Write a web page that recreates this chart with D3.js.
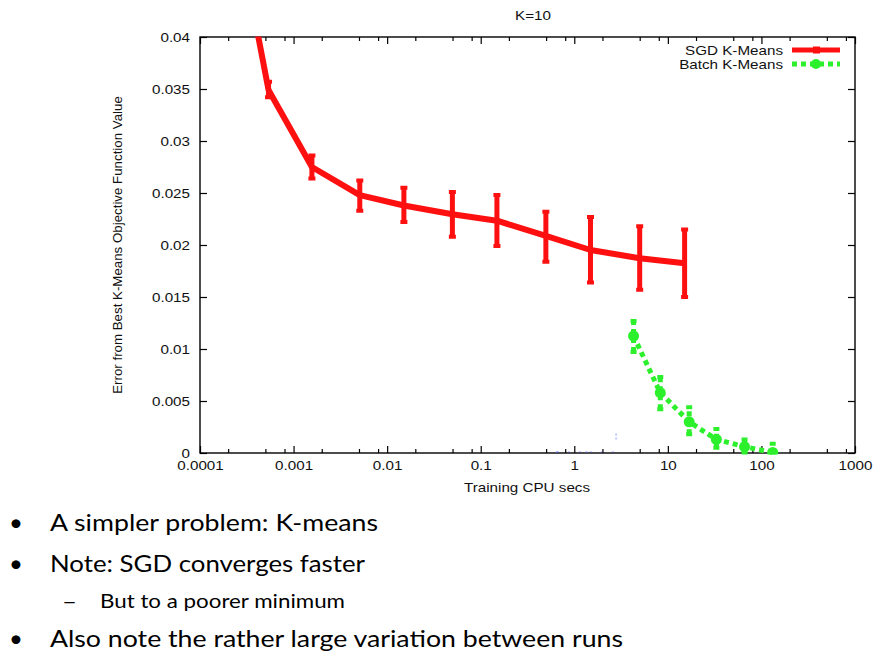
<!DOCTYPE html>
<html>
<head>
<meta charset="utf-8">
<script src="https://cdn.jsdelivr.net/npm/d3@7"></script>
<style>
	body{margin:0;background:#fff;}
	svg{display:block;}
</style>
</head>
<body>
<svg width="880" height="662"></svg>
<script>
//x轴刻度
var xTicks = [0.0001, 0.001, 0.01, 0.1, 1, 10, 100, 1000];
var xTickLabels = ['0.0001', '0.001', '0.01', '0.1', '1', '10', '100', '1000'];
var xMinorMult = [2, 5, 8];
//y轴刻度
var yTicks = [0, 0.005, 0.01, 0.015, 0.02, 0.025, 0.03, 0.035, 0.04];
var yTickLabels = ['0', '0.005', '0.01', '0.015', '0.02', '0.025', '0.03', '0.035', '0.04'];

//SGD K-Means
var sgdX = [0.00015, 0.00054, 0.00157, 0.0051, 0.0151, 0.0498, 0.149, 0.497, 1.49, 5.0, 15.1];
var sgdY = [0.061, 0.0349, 0.0275, 0.0248, 0.0238, 0.02295, 0.02234, 0.02087, 0.01952, 0.01872, 0.01824];
var sgdLo = [0.060, 0.0342, 0.0264, 0.0233, 0.0222, 0.0208, 0.0199, 0.0184, 0.0164, 0.0157, 0.0150];
var sgdHi = [0.062, 0.0357, 0.0286, 0.0262, 0.0255, 0.0251, 0.0248, 0.0232, 0.0227, 0.0218, 0.0215];

//Batch K-Means
var batchX = [4.3, 8.3, 16.9, 33, 66, 132];
var batchY = [0.01125, 0.0058, 0.0030, 0.0013, 0.0006, 0.00005];
var batchLo = [0.0097, 0.0042, 0.0018, 0.0005, 0, 0];
var batchHi = [0.0127, 0.0073, 0.0044, 0.0023, 0.0013, 0.0009];

//隐约可见的第三组（蓝色）
var blueX = [0.65, 1.35, 2.8];
var blueY = [0.0001, 0.0001, 0.0001];
var blueLo = [0, 0, 0.0013];
var blueHi = [0.0002, 0.0002, 0.0019];

var title = 'K=10';
var xTitle = 'Training CPU secs';
var yTitle = 'Error from Best K-Means Objective Function Value';
var legendNames = ['SGD K-Means', 'Batch K-Means'];

var bullets = [
	{mark:'•', text:'A simpler problem: K-means', level:0},
	{mark:'•', text:'Note: SGD converges faster', level:0},
	{mark:'–', text:'But to a poorer minimum', level:1},
	{mark:'•', text:'Also note the rather large variation between runs', level:0}
];

var pLeft = 200, pRight = 855, pTop = 37, pBottom = 453;
var sx = 1.17; //图片横向被拉伸
var svg = d3.select('svg');
var x = d3.scaleLog().domain([1e-4, 1e3]).range([pLeft, pRight]);
var y = d3.scaleLinear().domain([0, 0.04]).range([pBottom, pTop]);
var font = '"Liberation Sans", Arial, sans-serif';

function zip(xs, ys, lo, hi){
	return xs.map(function(d, i){ return {x:d, y:ys[i], lo:lo[i], hi:hi[i]}; });
}
var sgd = zip(sgdX, sgdY, sgdLo, sgdHi);
var batch = zip(batchX, batchY, batchLo, batchHi);
var blue = zip(blueX, blueY, blueLo, blueHi);

var xMinor = [];
xTicks.slice(0, -1).forEach(function(t){
	xMinorMult.forEach(function(m){ xMinor.push(t * m); });
});

//坐标轴
function styleAxis(g){
	g.select('.domain').remove();
	g.selectAll('line').attr('stroke', '#000').attr('stroke-width', 1.2);
	g.selectAll('text').attr('font-family', font).attr('font-size', 13).attr('fill', '#111');
}
svg.append('g').attr('transform', 'translate(0,' + pBottom + ')')
	.call(d3.axisBottom(x).tickValues(xTicks).tickFormat(function(d, i){ return xTickLabels[i]; })
		.tickSizeInner(-7).tickSizeOuter(0).tickPadding(8))
	.call(styleAxis)
	.selectAll('text').attr('transform', 'scale(' + sx + ',1)');
svg.append('g').attr('transform', 'translate(0,' + pBottom + ')')
	.call(d3.axisBottom(x).tickValues(xMinor).tickFormat('').tickSizeInner(-4).tickSizeOuter(0))
	.call(styleAxis);
svg.append('g').attr('transform', 'translate(0,' + pTop + ')')
	.call(d3.axisTop(x).tickValues(xTicks).tickFormat('').tickSizeInner(-7).tickSizeOuter(0))
	.call(styleAxis);
svg.append('g').attr('transform', 'translate(0,' + pTop + ')')
	.call(d3.axisTop(x).tickValues(xMinor).tickFormat('').tickSizeInner(-4).tickSizeOuter(0))
	.call(styleAxis);
svg.append('g').attr('transform', 'translate(' + pLeft + ',0)')
	.call(d3.axisLeft(y).tickValues(yTicks).tickFormat(function(d, i){ return yTickLabels[i]; })
		.tickSizeInner(-7).tickSizeOuter(0).tickPadding(10))
	.call(styleAxis)
	.selectAll('text').attr('transform', 'scale(' + sx + ',1)').attr('x', -10 / sx);
svg.append('g').attr('transform', 'translate(' + pRight + ',0)')
	.call(d3.axisRight(y).tickValues(yTicks).tickFormat('').tickSizeInner(-7).tickSizeOuter(0))
	.call(styleAxis);

svg.append('rect').attr('x', pLeft).attr('y', pTop).attr('width', pRight - pLeft).attr('height', pBottom - pTop)
	.attr('fill', 'none').attr('stroke', '#000').attr('stroke-width', 1.4);

//标题
function hText(tx, ty, str, anchor, size){
	return svg.append('text').attr('transform', 'translate(' + tx + ',' + ty + ') scale(' + sx + ',1)')
		.attr('text-anchor', anchor).attr('font-family', font).attr('font-size', size || 13)
		.attr('fill', '#111').text(str);
}
hText(533, 20, title, 'middle');
hText(527, 492, xTitle, 'middle');
svg.append('text').attr('transform', 'translate(122,245) rotate(-90)')
	.attr('text-anchor', 'middle').attr('font-family', font).attr('font-size', 13.3)
	.attr('fill', '#111').text(yTitle);

//数据
svg.append('clipPath').attr('id', 'plot').append('rect')
	.attr('x', pLeft).attr('y', pTop - 0.5).attr('width', pRight - pLeft).attr('height', pBottom - pTop + 2);
var plot = svg.append('g').attr('clip-path', 'url(#plot)');
var line = d3.line().x(function(d){ return x(d.x); }).y(function(d){ return y(d.y); });

function drawBars(g, data, color, width, cap, dash){
	var bars = g.append('g').selectAll('g').data(data).join('g');
	bars.append('line')
		.attr('x1', function(d){ return x(d.x); }).attr('x2', function(d){ return x(d.x); })
		.attr('y1', function(d){ return y(d.lo); }).attr('y2', function(d){ return y(d.hi); })
		.attr('stroke', color).attr('stroke-width', width).attr('stroke-dasharray', dash);
	[ 'lo', 'hi' ].forEach(function(k){
		bars.append('line')
			.attr('x1', function(d){ return x(d.x) - cap; }).attr('x2', function(d){ return x(d.x) + cap; })
			.attr('y1', function(d){ return y(d[k]); }).attr('y2', function(d){ return y(d[k]); })
			.attr('stroke', color).attr('stroke-width', width - 1);
	});
	return bars;
}

//blue，几乎看不见
plot.append('path').datum(blue).attr('d', line).attr('fill', 'none')
	.attr('stroke', '#3344ee').attr('stroke-width', 1.5).attr('stroke-dasharray', '2,9').attr('opacity', 0.35);
drawBars(plot, blue, '#6677ff', 2, 0, '2,2').attr('opacity', 0.4);

//green
plot.append('path').datum(batch).attr('d', line).attr('fill', 'none')
	.attr('stroke', '#2cf02c').attr('stroke-width', 5).attr('stroke-dasharray', '5,4');
drawBars(plot, batch, '#2cf02c', 5, 3, '5,4');
plot.append('g').selectAll('circle').data(batch).join('circle')
	.attr('cx', function(d){ return x(d.x); }).attr('cy', function(d){ return y(d.y); })
	.attr('r', 5.5).attr('fill', '#2cf02c');

//red
plot.append('path').datum(sgd).attr('d', line).attr('fill', 'none')
	.attr('stroke', '#ff1010').attr('stroke-width', 6).attr('stroke-linejoin', 'round');
drawBars(plot, sgd, '#ff1010', 5, 3.5, null);

//图例
legendNames.forEach(function(name, i){
	var ly = 50 + i * 14;
	hText(783, ly + 4.5, name, 'end');
	if(i == 0){
		svg.append('line').attr('x1', 792).attr('x2', 840).attr('y1', ly).attr('y2', ly)
			.attr('stroke', '#ff1010').attr('stroke-width', 5);
		svg.append('rect').attr('x', 813).attr('y', ly - 3.5).attr('width', 7).attr('height', 7).attr('fill', '#ff1010');
	}else{
		svg.append('line').attr('x1', 792).attr('x2', 840).attr('y1', ly).attr('y2', ly)
			.attr('stroke', '#2cf02c').attr('stroke-width', 5).attr('stroke-dasharray', '5,4');
		svg.append('circle').attr('cx', 816).attr('cy', ly).attr('r', 5).attr('fill', '#2cf02c');
	}
});

//幻灯片文字
var lineY = [531, 572, 608, 647];
var lineW = [328, 315, 245, 573];
bullets.forEach(function(b, i){
	var size = b.level == 0 ? 24 : 20;
	var markX = b.level == 0 ? 9 : 62;
	var textX = b.level == 0 ? 50 : 100;
	svg.append('text').attr('x', markX).attr('y', lineY[i])
		.attr('font-family', 'Lato, "Open Sans", sans-serif').attr('font-size', size).attr('fill', '#000')
		.attr('textLength', b.level == 0 ? null : 15).attr('lengthAdjust', 'spacingAndGlyphs')
		.text(b.mark);
	svg.append('text').attr('x', textX).attr('y', lineY[i])
		.attr('font-family', 'Lato, "Open Sans", sans-serif').attr('font-size', size).attr('fill', '#000')
		.attr('textLength', lineW[i]).attr('lengthAdjust', 'spacingAndGlyphs')
		.text(b.text);
});
</script>
</body>
</html>
